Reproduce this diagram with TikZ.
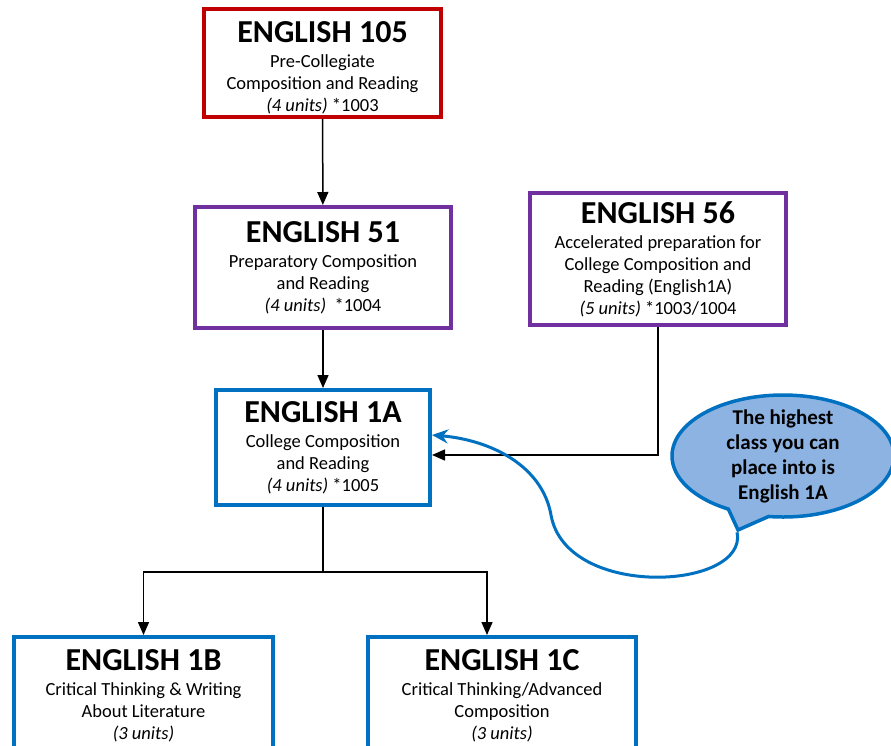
\documentclass[tikz,border=0pt]{standalone}
\usepackage{fontspec}
\setmainfont{Carlito}
\usetikzlibrary{arrows.meta,shapes.callouts}
\definecolor{ecred}{HTML}{C00000}
\definecolor{ecpurple}{HTML}{7030A0}
\definecolor{ecblue}{HTML}{0070C0}
\definecolor{eclight}{HTML}{8DB3E2}
\newcommand{\course}[1]{{\fontsize{32}{32}\selectfont\bfseries #1}\\[3pt]}

\begin{document}
\begin{tikzpicture}[x=1pt, y=-1pt]
    % Define styles
    \tikzstyle{box} = [rectangle, align=center, line width=4pt, inner sep=0pt, fill=white, font=\fontsize{18.5}{22}\selectfont]
    \tikzstyle{remedial} = [box, draw=ecred]
    \tikzstyle{prep} = [box, draw=ecpurple]
    \tikzstyle{college} = [box, draw=ecblue]
    \tikzstyle{bubble} = [ellipse callout, draw=ecblue, fill=eclight, line width=3.5pt, minimum width=222pt, minimum height=122pt, callout pointer arc=22]
    \tikzstyle{bubbletext} = [align=center, inner sep=0pt, font=\fontsize{21}{25}\selectfont\bfseries]
    \tikzstyle{arrow} = [line width=1.5pt, -{Triangle[length=13pt,width=11pt]}]
    \tikzstyle{hint} = [draw=ecblue, line width=3pt, -{Stealth[length=16pt,width=14pt]}]

    \useasboundingbox (0,0) rectangle (891,745);

    % Course flow
    \node (eng105) [remedial, minimum width=237pt, minimum height=108pt] at (322.5,63) {\course{\rule{0pt}{31pt}ENGLISH 105}Pre-Collegiate\\Composition and Reading\\\textit{(4 units)} *1003};
    \node (eng51) [prep, minimum width=256pt, minimum height=121pt] at (323,267.5) {\course{ENGLISH 51}Preparatory Composition\\and Reading\\\textit{(4 units)}\ \ *1004};
    \node (eng56) [prep, minimum width=256pt, minimum height=132pt] at (658,259) {\course{ENGLISH 56}Accelerated preparation for\\College Composition and\\Reading (English1A)\\\textit{(5 units)} *1003/1004};
    \node (eng1a) [college, minimum width=214pt, minimum height=115pt] at (323,447.5) {\course{ENGLISH 1A}College Composition\\and Reading\\\textit{(4 units)} *1005};
    \node (eng1b) [college, minimum width=259pt, minimum height=118pt] at (143.5,696) {\course{ENGLISH 1B}Critical Thinking \& Writing\\About Literature\\\textit{(3 units)}};
    \node (eng1c) [college, minimum width=268pt, minimum height=118pt] at (502,696) {\course{ENGLISH 1C}Critical Thinking/Advanced\\Composition\\\textit{(3 units)}};
    \coordinate (split) at (323,572);

    % Callout
    \node (note) [bubble, callout absolute pointer={(738,530)}] at (783,456) {};
    \node (notetext) [bubbletext] at (note.center) {The highest\\class you can\\place into is\\English 1A};

    % Arrows
    \draw [arrow] (eng105) -- (eng51);
    \draw [arrow] (eng51) -- (eng1a);
    \draw [arrow] (eng56.south) |- ([yshift=-7.5pt]eng1a.east);
    \draw [line width=1.5pt] (eng1a) -- (split);
    \draw [arrow] (split) -| (eng1b.north);
    \draw [arrow] (split) -| ([xshift=-15pt]eng1c.north);
    \draw [hint] (note.pointer) .. controls (748,590) and (566,600) .. (551,515) .. controls (542,465) and (490,440) .. ([yshift=12.5pt]eng1a.east);
\end{tikzpicture}
\end{document}
